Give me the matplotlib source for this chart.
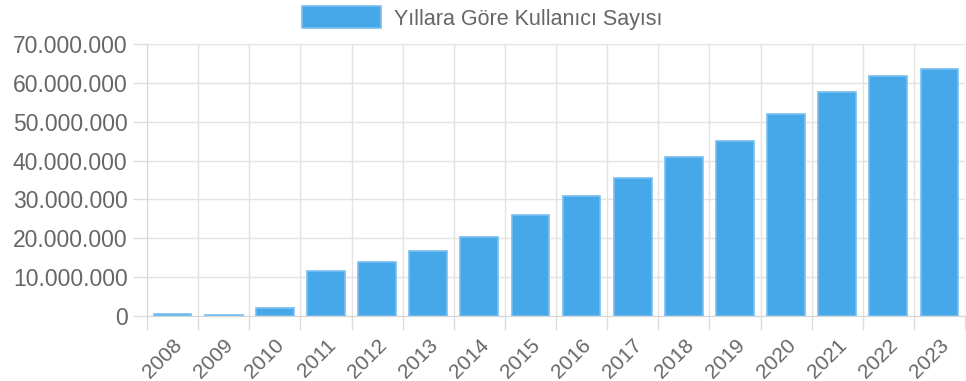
import matplotlib
matplotlib.use("Agg")
from matplotlib import pyplot as plt
from matplotlib.patches import Patch
from matplotlib.ticker import FuncFormatter
import numpy as np

# yearly user counts
years = [str(y) for y in range(2008, 2024)]
users = [500_000, 200_000, 2_000_000, 11_500_000, 14_000_000, 16_700_000,
         20_300_000, 26_000_000, 31_000_000, 35_500_000, 41_000_000, 45_000_000,
         52_000_000, 57_600_000, 61_700_000, 63_500_000]
series_label = "Yıllara Göre Kullanıcı Sayısı"

plt.rcParams['font.family'] = ['Liberation Sans', 'DejaVu Sans']

fig = plt.figure(figsize=(9.66, 3.81), dpi=100)
ax = fig.add_axes([147/966, 65/381, 818/966, 272/381])

x = np.arange(len(years))
ax.bar(x, users, width=0.74, color='#46a8e9', edgecolor='#78bff0', linewidth=1.2, zorder=3)

ax.set_xlim(-0.5, len(years) - 0.5)
ax.set_ylim(0, 70_000_000)
ax.set_yticks(np.arange(0, 70_000_001, 10_000_000))
ax.yaxis.set_major_formatter(FuncFormatter(lambda v, p: f"{int(v):,}".replace(",", ".")))

# category boundaries carry the grid and the tick marks
ax.set_xticks(x)
ax.set_xticklabels(years)
ax.set_xticks(np.arange(-0.5, len(years)), minor=True)
ax.tick_params(axis='x', which='major', length=0, pad=14, labelsize=15, labelcolor='#666666')
ax.tick_params(axis='x', which='minor', length=10, color='#dddddd', width=1)
ax.tick_params(axis='y', length=10, color='#dddddd', width=1, pad=4, labelsize=16.5, labelcolor='#666666')
for lbl in ax.get_xticklabels():
    lbl.set_rotation(45)
    lbl.set_ha('right')
    lbl.set_rotation_mode('anchor')

ax.grid(True, which='minor', axis='x', color='#e3e3e3', linewidth=1, zorder=0)
ax.grid(True, which='major', axis='y', color='#e3e3e3', linewidth=1, zorder=0)
for side in ['top', 'right']:
    ax.spines[side].set_visible(False)
ax.spines['left'].set_color('#d5d5d5')
ax.spines['bottom'].set_color('#d5d5d5')

handle = Patch(facecolor='#46a8e9', edgecolor='#78bff0', linewidth=1.2)
fig.legend([handle], [series_label], loc='center', bbox_to_anchor=(482/966, 1 - 18/381),
           frameon=False, fontsize=15.5, handlelength=3.7, handleheight=1.2,
           handletextpad=0.6, labelcolor='#666666')

fig.savefig("out.png", dpi=100)
